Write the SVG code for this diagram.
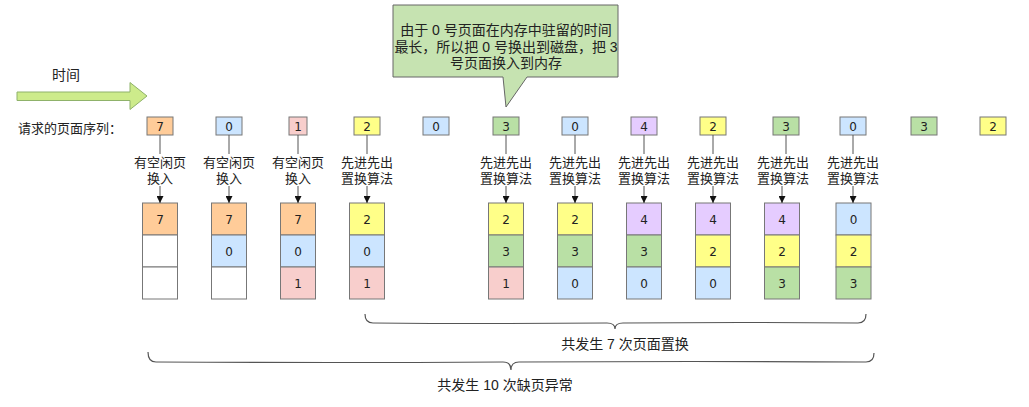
<svg xmlns="http://www.w3.org/2000/svg" width="1029" height="407" viewBox="0 0 1029 407">
<defs>
<marker id="ah" viewBox="0 0 10 10" refX="10" refY="5" markerWidth="7" markerHeight="7" markerUnits="userSpaceOnUse" orient="auto">
<path d="M0,0 L10,5 L0,10 Z" fill="#111"/>
</marker>
<style>
.cjk{font-family:"Liberation Sans","Noto Sans CJK SC",sans-serif;fill:#222;}
.num{font-family:"DejaVu Sans","Liberation Sans",sans-serif;font-size:12px;fill:#222;text-anchor:middle;}
.lbl{font-size:13px;text-anchor:middle;}
.box{stroke:#777;stroke-width:1;}
.o{fill:#FFCC99;}.b{fill:#CCE5FF;}.p{fill:#F8CECC;}.y{fill:#FFFF88;}.g{fill:#B9E0A5;}.v{fill:#E5CCFF;}.w{fill:#FFFFFF;}
.ln{stroke:#555;stroke-width:1;fill:none;}
.br{stroke:#555;stroke-width:1.2;fill:none;}
</style>
</defs>
<rect width="1029" height="407" fill="#ffffff"/>

<g id="time">
<text class="cjk" x="66" y="80" font-size="14" text-anchor="middle">时间</text>
<path d="M17,92 H130 V82.5 L147,96 L130,109.5 V100.5 H17 Z" fill="#CDEB8B" stroke="#8FB26A" stroke-width="1"/>
</g>

<g id="callout">
<path d="M393,5 H618 V77 H527 L506,107 L503,77 H393 Z" fill="#C6E3B1" stroke="#666" stroke-width="1"/>
<text class="cjk" font-size="14" text-anchor="middle" x="506" y="34.5">由于 0 号页面在内存中驻留的时间</text>
<text class="cjk" font-size="14" text-anchor="middle" x="506" y="51.5">最长，所以把 0 号换出到磁盘，把 3</text>
<text class="cjk" font-size="14" text-anchor="middle" x="506" y="68">号页面换入到内存</text>
</g>

<g id="seq-label"><text class="cjk" font-size="13" x="18" y="132.5">请求的页面序列：</text></g>

<g id="seq">
<g id="s0"><rect class="box o" x="147" y="117" width="26" height="18"/><text class="num" x="160" y="130.5">7</text></g>
<g id="s1"><rect class="box b" x="216" y="117" width="26" height="18"/><text class="num" x="229" y="130.5">0</text></g>
<g id="s2"><rect class="box p" x="289" y="117" width="18" height="18"/><text class="num" x="298" y="130.5">1</text></g>
<g id="s3"><rect class="box y" x="354" y="117" width="26" height="18"/><text class="num" x="367" y="130.5">2</text></g>
<g id="s4"><rect class="box b" x="423" y="117" width="26" height="18"/><text class="num" x="436" y="130.5">0</text></g>
<g id="s5"><rect class="box g" x="493" y="117" width="26" height="18"/><text class="num" x="506" y="130.5">3</text></g>
<g id="s6"><rect class="box b" x="562" y="117" width="26" height="18"/><text class="num" x="575" y="130.5">0</text></g>
<g id="s7"><rect class="box v" x="631" y="117" width="26" height="18"/><text class="num" x="644" y="130.5">4</text></g>
<g id="s8"><rect class="box y" x="700" y="117" width="26" height="18"/><text class="num" x="713" y="130.5">2</text></g>
<g id="s9"><rect class="box g" x="773" y="117" width="26" height="18"/><text class="num" x="786" y="130.5">3</text></g>
<g id="s10"><rect class="box b" x="840" y="117" width="26" height="18"/><text class="num" x="853" y="130.5">0</text></g>
<g id="s11"><rect class="box g" x="911" y="117" width="26" height="18"/><text class="num" x="924" y="130.5">3</text></g>
<g id="s12"><rect class="box y" x="980" y="117" width="26" height="18"/><text class="num" x="993" y="130.5">2</text></g>
</g>

<g id="labels">
<g id="l0"><text class="cjk lbl" x="160" y="166.5">有空闲页</text><text class="cjk lbl" x="160" y="183">换入</text></g>
<g id="l1"><text class="cjk lbl" x="229" y="166.5">有空闲页</text><text class="cjk lbl" x="229" y="183">换入</text></g>
<g id="l2"><text class="cjk lbl" x="298" y="166.5">有空闲页</text><text class="cjk lbl" x="298" y="183">换入</text></g>
<g id="l3"><text class="cjk lbl" x="367" y="166.5">先进先出</text><text class="cjk lbl" x="367" y="183">置换算法</text></g>
<g id="l5"><text class="cjk lbl" x="506" y="166.5">先进先出</text><text class="cjk lbl" x="506" y="183">置换算法</text></g>
<g id="l6"><text class="cjk lbl" x="575" y="166.5">先进先出</text><text class="cjk lbl" x="575" y="183">置换算法</text></g>
<g id="l7"><text class="cjk lbl" x="644" y="166.5">先进先出</text><text class="cjk lbl" x="644" y="183">置换算法</text></g>
<g id="l8"><text class="cjk lbl" x="713" y="166.5">先进先出</text><text class="cjk lbl" x="713" y="183">置换算法</text></g>
<g id="l9"><text class="cjk lbl" x="783" y="166.5">先进先出</text><text class="cjk lbl" x="783" y="183">置换算法</text></g>
<g id="l10"><text class="cjk lbl" x="853" y="166.5">先进先出</text><text class="cjk lbl" x="853" y="183">置换算法</text></g>
</g>

<g id="frames">
<g id="f0"><rect class="box o" x="142.5" y="203" width="35" height="32"/><text class="num" x="160" y="223.5">7</text><rect class="box w" x="142.5" y="235" width="35" height="32"/><rect class="box w" x="142.5" y="267" width="35" height="32"/></g>
<g id="f1"><rect class="box o" x="211.5" y="203" width="35" height="32"/><text class="num" x="229" y="223.5">7</text><rect class="box b" x="211.5" y="235" width="35" height="32"/><text class="num" x="229" y="255.5">0</text><rect class="box w" x="211.5" y="267" width="35" height="32"/></g>
<g id="f2"><rect class="box o" x="280.5" y="203" width="35" height="32"/><text class="num" x="298" y="223.5">7</text><rect class="box b" x="280.5" y="235" width="35" height="32"/><text class="num" x="298" y="255.5">0</text><rect class="box p" x="280.5" y="267" width="35" height="32"/><text class="num" x="298" y="287.5">1</text></g>
<g id="f3"><rect class="box y" x="349.5" y="203" width="35" height="32"/><text class="num" x="367" y="223.5">2</text><rect class="box b" x="349.5" y="235" width="35" height="32"/><text class="num" x="367" y="255.5">0</text><rect class="box p" x="349.5" y="267" width="35" height="32"/><text class="num" x="367" y="287.5">1</text></g>
<g id="f5"><rect class="box y" x="488.5" y="203" width="35" height="32"/><text class="num" x="506" y="223.5">2</text><rect class="box g" x="488.5" y="235" width="35" height="32"/><text class="num" x="506" y="255.5">3</text><rect class="box p" x="488.5" y="267" width="35" height="32"/><text class="num" x="506" y="287.5">1</text></g>
<g id="f6"><rect class="box y" x="557.5" y="203" width="35" height="32"/><text class="num" x="575" y="223.5">2</text><rect class="box g" x="557.5" y="235" width="35" height="32"/><text class="num" x="575" y="255.5">3</text><rect class="box b" x="557.5" y="267" width="35" height="32"/><text class="num" x="575" y="287.5">0</text></g>
<g id="f7"><rect class="box v" x="626.5" y="203" width="35" height="32"/><text class="num" x="644" y="223.5">4</text><rect class="box g" x="626.5" y="235" width="35" height="32"/><text class="num" x="644" y="255.5">3</text><rect class="box b" x="626.5" y="267" width="35" height="32"/><text class="num" x="644" y="287.5">0</text></g>
<g id="f8"><rect class="box v" x="695.5" y="203" width="35" height="32"/><text class="num" x="713" y="223.5">4</text><rect class="box y" x="695.5" y="235" width="35" height="32"/><text class="num" x="713" y="255.5">2</text><rect class="box b" x="695.5" y="267" width="35" height="32"/><text class="num" x="713" y="287.5">0</text></g>
<g id="f9"><rect class="box v" x="764.5" y="203" width="35" height="32"/><text class="num" x="782" y="223.5">4</text><rect class="box y" x="764.5" y="235" width="35" height="32"/><text class="num" x="782" y="255.5">2</text><rect class="box g" x="764.5" y="267" width="35" height="32"/><text class="num" x="782" y="287.5">3</text></g>
<g id="f10"><rect class="box b" x="836" y="203" width="35" height="32"/><text class="num" x="853.5" y="223.5">0</text><rect class="box y" x="836" y="235" width="35" height="32"/><text class="num" x="853.5" y="255.5">2</text><rect class="box g" x="836" y="267" width="35" height="32"/><text class="num" x="853.5" y="287.5">3</text></g>
</g>

<g id="connectors">
<path class="ln" d="M160,135 V154 M229,135 V154 M298,135 V154 M367,135 V154 M506,135 V154 M575,135 V154 M644,135 V154 M713,135 V154 M786,135 V154 M853,135 V154"/>
<line class="ln" x1="160" y1="186" x2="160" y2="203" marker-end="url(#ah)"/>
<line class="ln" x1="229" y1="186" x2="229" y2="203" marker-end="url(#ah)"/>
<line class="ln" x1="298" y1="186" x2="298" y2="203" marker-end="url(#ah)"/>
<line class="ln" x1="367" y1="186" x2="367" y2="203" marker-end="url(#ah)"/>
<line class="ln" x1="506" y1="186" x2="506" y2="203" marker-end="url(#ah)"/>
<line class="ln" x1="575" y1="186" x2="575" y2="203" marker-end="url(#ah)"/>
<line class="ln" x1="644" y1="186" x2="644" y2="203" marker-end="url(#ah)"/>
<line class="ln" x1="713" y1="186" x2="713" y2="203" marker-end="url(#ah)"/>
<line class="ln" x1="782" y1="186" x2="782" y2="203" marker-end="url(#ah)"/>
<line class="ln" x1="853" y1="186" x2="853" y2="203" marker-end="url(#ah)"/>
</g>

<g id="brace-replace">
<path class="br" d="M365,314 Q365,323 373,323 Q490,324 607,323 Q615,323 615,329 Q615,323 623,323 Q740,322 858,323 Q866,323 866,314"/>
<text class="cjk" font-size="14" text-anchor="middle" x="625" y="349">共发生 7 次页面置换</text>
</g>
<g id="brace-fault">
<path class="br" d="M148,352 Q148,362 156,362 Q330,363 503,362 Q511,362 511,370 Q511,362 519,362 Q690,361 866,362 Q874,362 874,353"/>
<text class="cjk" font-size="14" text-anchor="middle" x="505" y="390">共发生 10 次缺页异常</text>
</g>
</svg>
